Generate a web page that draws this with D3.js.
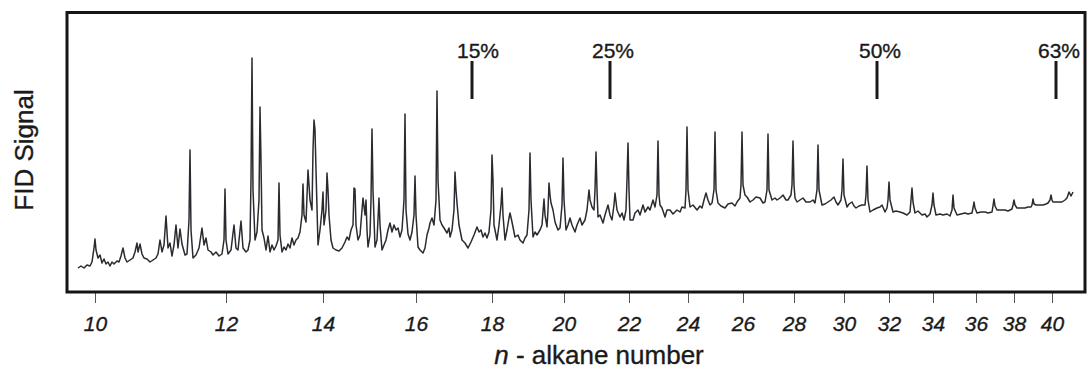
<!DOCTYPE html>
<html>
<head>
<meta charset="utf-8">
<script src="https://cdn.jsdelivr.net/npm/d3@7"></script>
<style>
  html, body { margin: 0; padding: 0; background: #fff; }
  svg { display: block; font-family: Arial, "Liberation Sans", Helvetica, sans-serif; }
  .lbl { stroke: #1a1a1a; stroke-width: 0.35px; }
</style>
</head>
<body>
<svg id="chart" width="1088" height="371"></svg>
<script>
// n-alkane reference peaks and their retention times (min)
const alkaneNumbers = [10, 12, 14, 16, 18, 20, 22, 24, 26, 28, 30, 32, 34, 36, 38, 40];
const alkaneRT = [2.8, 15.9, 25.6, 34.9, 42.5, 49.7, 56.2, 62.1, 67.6, 72.7, 77.7, 82.2, 86.6, 90.9, 94.7, 98.5];

// cumulative recovery markers
const recoveryLabels = ["15%", "25%", "50%", "63%"];
const recoveryRT = [40.5, 54.3, 81.0, 98.9];

// FID trace: [retention time (min), signal]
const trace = [
  [1.1,12.5],[1.4,13.5],[1.7,12.5],[2.0,14],[2.3,13.5],[2.5,15.5],[2.7,22.5],[2.8,27],[2.9,21.5],[3.1,17.5],
  [3.3,19],[3.5,15],[3.7,17],[3.9,14.5],[4.1,15.5],[4.3,13.5],[4.5,15.5],[4.7,14.5],[5.0,16],[5.2,15.5],
  [5.4,18.5],[5.6,22.5],[5.8,17.5],[6.0,15.5],[6.3,16.5],[6.6,17.5],[6.8,20.5],[7.0,25],[7.1,20.5],[7.3,24.5],
  [7.5,19.5],[7.7,17.5],[8.0,17],[8.3,15.5],[8.6,16.5],[8.9,17.5],[9.1,19.5],[9.3,26.5],[9.5,20.5],[9.7,24],
  [9.9,38.5],[10.1,22.5],[10.3,25],[10.5,18.5],[10.7,24],[10.9,34],[11.1,22.5],[11.3,32],[11.5,24.5],[11.8,19],
  [12.0,19.5],[12.2,36.5],[12.3,71.5],[12.4,31.5],[12.6,17.5],[12.9,19],[13.2,22.5],[13.5,32.5],[13.7,24],[13.9,27.5],
  [14.1,21.5],[14.4,20.5],[14.6,19],[14.9,20.5],[15.2,18.5],[15.5,19.5],[15.7,26.5],[15.8,52],[15.9,26.5],[16.1,19.5],
  [16.4,21.5],[16.7,34],[16.9,22.5],[17.1,21.5],[17.4,36],[17.6,22.5],[17.9,20.5],[18.1,21.5],[18.3,26.5],[18.4,56.5],
  [18.5,117.5],[18.6,51.5],[18.8,26.5],[19.0,30.5],[19.2,46.5],[19.3,93],[19.4,66.5],[19.5,31.5],[19.7,27.5],[19.9,21.5],
  [20.1,28.5],[20.3,20.5],[20.5,24],[20.7,21.5],[20.9,23.5],[21.1,26.5],[21.2,55],[21.3,29],[21.5,20.5],[21.7,23],
  [21.9,21.5],[22.1,24.5],[22.3,22.5],[22.5,27.5],[22.7,24],[22.9,26.5],[23.1,27.5],[23.3,30.5],[23.5,39],[23.6,54.5],
  [23.7,39],[23.9,35.5],[24.1,61.5],[24.3,46.5],[24.5,41.5],[24.6,71.5],[24.7,86.5],[24.8,81.5],[24.9,61.5],[25.1,24],
  [25.3,31.5],[25.5,41.5],[25.6,50.5],[25.7,34],[25.9,41.5],[26.0,60],[26.1,51.5],[26.2,39],[26.4,26.5],[26.6,22.5],
  [26.9,21.5],[27.2,21],[27.5,22.5],[27.8,25.5],[28.0,28],[28.2,26.5],[28.4,31.5],[28.6,34],[28.7,52.5],[28.8,52],
  [28.9,34],[29.1,26.5],[29.3,29],[29.5,41.5],[29.6,47.5],[29.8,39],[29.9,46.5],[30.0,31.5],[30.1,23],[30.3,29],
  [30.4,46.5],[30.5,82],[30.6,51.5],[30.8,23],[31.0,26.5],[31.2,47.5],[31.3,34],[31.5,21.5],[31.7,24],[31.9,26.5],
  [32.1,31.5],[32.3,35],[32.5,30.5],[32.7,34],[32.9,31.5],[33.1,32.5],[33.3,28],[33.5,31.5],[33.7,46.5],[33.8,89.5],
  [33.9,41.5],[34.1,29.5],[34.3,26.5],[34.5,30.5],[34.7,39],[34.8,58.5],[34.9,39],[35.1,23],[35.3,21.5],[35.6,20],
  [35.8,22.5],[36.0,29],[36.2,32.5],[36.3,35],[36.5,37.5],[36.7,34],[36.9,46.5],[37.0,101],[37.1,56.5],[37.3,36.5],
  [37.5,34],[37.7,32.5],[38.0,30],[38.2,32.5],[38.3,28],[38.5,31.5],[38.7,41.5],[38.8,60.5],[38.9,51.5],[39.0,45],
  [39.2,34],[39.5,26.5],[39.8,25],[40.1,22.5],[40.4,25.5],[40.7,29],[41.0,33],[41.2,30.5],[41.4,31.5],[41.6,28],
  [41.8,30],[42.0,27.5],[42.2,30.5],[42.4,41.5],[42.5,69],[42.6,56.5],[42.7,34],[43.0,26.5],[43.2,34],[43.4,44],
  [43.5,52.5],[43.6,39],[43.8,26.5],[44.0,31.5],[44.2,37.5],[44.3,40],[44.5,35.5],[44.8,28],[45.1,29],[45.3,26.5],
  [45.6,25],[45.8,27.5],[46.0,29],[46.2,41.5],[46.3,70],[46.4,46.5],[46.6,28],[46.8,30.5],[47.0,29],[47.3,31.5],
  [47.5,34],[47.7,47],[47.8,39],[48.0,33],[48.1,41.5],[48.2,55],[48.3,49],[48.4,45],[48.6,41.5],[48.8,35.5],
  [49.1,31.5],[49.3,32.5],[49.5,44],[49.6,67.5],[49.7,46.5],[49.9,31.5],[50.1,34],[50.3,37.5],[50.5,34],[50.8,30.5],
  [51.0,34],[51.3,37.5],[51.5,34],[51.8,36.5],[52.0,41.5],[52.2,51.5],[52.3,46.5],[52.5,43],[52.7,41.5],[52.8,51.5],
  [52.9,70.5],[53.0,51.5],[53.1,38],[53.3,39],[53.6,35],[53.8,39],[54.1,44],[54.3,39],[54.5,36.5],[54.7,44],
  [54.8,50],[55.0,41.5],[55.3,38],[55.5,40],[55.7,36.5],[55.9,41.5],[56.0,56.5],[56.1,75],[56.2,51.5],[56.3,36.5],
  [56.6,36.5],[56.8,40],[57.1,41.5],[57.3,39],[57.6,44],[57.8,40.5],[58.1,43],[58.3,41.5],[58.6,46.5],[58.8,43],
  [59.0,49],[59.1,76],[59.2,49],[59.3,44],[59.5,42.5],[59.8,38],[60.0,41.5],[60.3,41.5],[60.6,39.5],[61.0,41.5],
  [61.3,40.5],[61.5,43],[61.8,42.5],[61.9,51.5],[62.0,83],[62.1,51.5],[62.3,43],[62.6,44],[63.0,41.5],[63.3,43.5],
  [63.5,42.5],[63.7,46.5],[63.9,50],[64.1,46.5],[64.3,44],[64.5,45],[64.7,51.5],[64.8,80.5],[64.9,51.5],[65.1,45],
  [65.4,43.5],[65.8,42.5],[66.1,44.5],[66.5,45],[66.8,43.5],[67.0,45.5],[67.3,47.5],[67.4,54],[67.5,80.5],[67.6,54],
  [67.8,49],[68.0,48],[68.3,45.5],[68.6,46.5],[68.9,48],[69.3,47.5],[69.6,45],[69.8,45.5],[70.0,51.5],[70.1,79.5],
  [70.2,51.5],[70.5,46.5],[70.8,47.5],[71.0,46.5],[71.3,47.5],[71.6,49],[71.9,46.5],[72.1,46.5],[72.4,49],[72.5,54],
  [72.6,76],[72.7,54],[72.8,47.5],[73.0,45.5],[73.3,46.5],[73.6,47.5],[73.9,45.5],[74.3,45.5],[74.6,46.5],[74.8,45],
  [75.0,51.5],[75.1,74],[75.2,51.5],[75.5,44],[75.8,44.5],[76.1,45.5],[76.4,46.5],[76.7,48],[76.9,45.5],[77.1,44],
  [77.4,46.5],[77.5,51.5],[77.6,67],[77.7,49],[78.0,43],[78.2,44.5],[78.5,45.5],[78.7,43.5],[78.9,42.5],[79.2,43.5],
  [79.5,44],[79.8,44],[79.9,49],[80.0,63.5],[80.1,46.5],[80.3,40.5],[80.6,41.5],[81.0,42.5],[81.3,43],[81.5,44],
  [81.8,40.5],[82.0,42.5],[82.1,46.5],[82.2,55.5],[82.3,46.5],[82.6,40.5],[82.9,41],[83.3,40.5],[83.6,40],[84.0,39],
  [84.3,40.5],[84.4,46.5],[84.5,52.5],[84.6,45.5],[84.8,40],[85.1,41],[85.5,39],[85.8,39.5],[86.0,38],[86.3,39.5],
  [86.5,44],[86.6,50],[86.7,44],[86.9,39],[87.3,39.5],[87.6,39],[88.0,39.5],[88.3,38.5],[88.5,41.5],[88.6,49],
  [88.7,42.5],[89.0,39],[89.4,39.5],[89.8,40],[90.1,39.5],[90.5,40],[90.6,42.5],[90.7,45.5],[90.8,42.5],[91.0,40],
  [91.4,40.5],[91.8,40.5],[92.1,40],[92.5,40.5],[92.6,43.5],[92.7,47],[92.8,43.5],[93.0,41.5],[93.4,41.5],[93.8,41.5],
  [94.1,41],[94.5,42],[94.6,44],[94.7,46.5],[94.8,44],[95.0,42.5],[95.4,42.5],[95.8,42.5],[96.1,43],[96.4,43],
  [96.5,44],[96.6,47],[96.7,44.5],[96.9,44],[97.3,44],[97.6,44],[97.9,44.5],[98.1,45],[98.3,46.5],[98.4,49],
  [98.5,46.5],[98.6,45.5],[99.0,45.5],[99.5,45.5],[99.8,46.5],[100.0,47.5],[100.2,50.5],[100.4,48.5],[100.6,50.5]
];

const svg = d3.select("#chart");
const plot = { left: 67, right: 1085, top: 13, bottom: 293 };

const x = d3.scaleLinear().domain([0, 101.8]).range([plot.left, plot.right]);
const y = d3.scaleLinear().domain([0, 140]).range([plot.bottom, plot.top]);

// n-alkane axis: each carbon number sits at its retention time
const alkaneScale = d3.scaleLinear()
  .domain(alkaneNumbers)
  .range(alkaneRT.map(t => x(t)));

// chromatogram trace
svg.append("path")
  .datum(trace)
  .attr("fill", "none")
  .attr("stroke", "#2a2a30")
  .attr("stroke-width", 1.5)
  .attr("stroke-linejoin", "round")
  .attr("d", d3.line().x(d => x(d[0])).y(d => y(d[1])));

// bottom axis with alkane numbers
const axis = svg.append("g")
  .attr("transform", `translate(0,${plot.bottom})`)
  .call(d3.axisBottom(alkaneScale)
    .tickValues(alkaneNumbers)
    .tickFormat(d3.format("d"))
    .tickSize(10)
    .tickPadding(13));
axis.select(".domain").remove();
axis.selectAll(".tick line").attr("stroke", "#555").attr("stroke-width", 1);
axis.selectAll(".tick text")
  .attr("class", "lbl")
  .attr("fill", "#1a1a1a")
  .style("font-size", "21px")
  .style("font-style", "italic");

// recovery markers
const markers = svg.append("g");
recoveryRT.forEach((t, i) => {
  markers.append("line")
    .attr("x1", x(t)).attr("x2", x(t))
    .attr("y1", 61).attr("y2", 99)
    .attr("stroke", "#1a1a1a")
    .attr("stroke-width", 3);
  markers.append("text")
    .attr("class", "lbl")
    .attr("x", x(t) + (i === 0 ? 6 : 3))
    .attr("y", 58)
    .attr("text-anchor", "middle")
    .attr("fill", "#1a1a1a")
    .style("font-size", "21px")
    .text(recoveryLabels[i]);
});

// frame
svg.append("rect")
  .attr("x", plot.left)
  .attr("y", plot.top - 0.5)
  .attr("width", plot.right - plot.left)
  .attr("height", plot.bottom - plot.top - 0.5)
  .attr("fill", "none")
  .attr("stroke", "#151515")
  .attr("stroke-width", 3);

// axis titles
const xTitle = svg.append("text")
  .attr("class", "lbl")
  .attr("x", 599)
  .attr("y", 364)
  .attr("text-anchor", "middle")
  .attr("fill", "#1a1a1a")
  .style("font-size", "26px");
xTitle.append("tspan").style("font-style", "italic").text("n");
xTitle.append("tspan").text(" - alkane number");

svg.append("text")
  .attr("class", "lbl")
  .attr("transform", "translate(33,150) rotate(-90)")
  .attr("text-anchor", "middle")
  .attr("fill", "#1a1a1a")
  .style("font-size", "26px")
  .text("FID Signal");
</script>
</body>
</html>
